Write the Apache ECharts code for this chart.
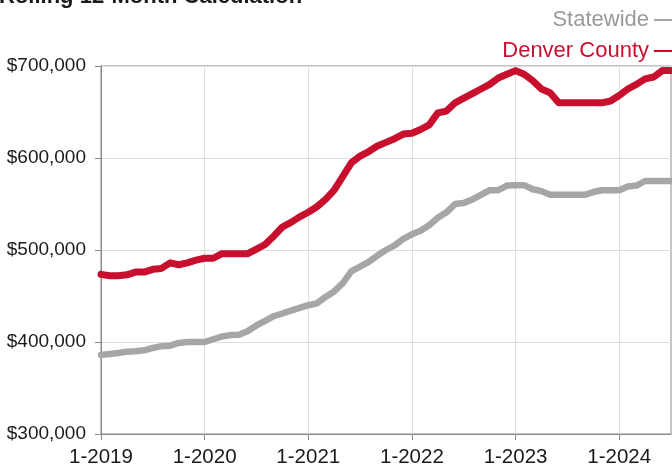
<!DOCTYPE html>
<html>
<head>
<meta charset="utf-8">
<script src="https://cdn.jsdelivr.net/npm/echarts@6/dist/echarts.min.js"></script>
<style>
html,body{margin:0;padding:0;background:#fff;}
#chart{width:672px;height:468px;}
</style>
</head>
<body>
<div id="chart"></div>
<script>
var months = [
 '1-2019','2-2019','3-2019','4-2019','5-2019','6-2019','7-2019','8-2019','9-2019','10-2019','11-2019','12-2019',
 '1-2020','2-2020','3-2020','4-2020','5-2020','6-2020','7-2020','8-2020','9-2020','10-2020','11-2020','12-2020',
 '1-2021','2-2021','3-2021','4-2021','5-2021','6-2021','7-2021','8-2021','9-2021','10-2021','11-2021','12-2021',
 '1-2022','2-2022','3-2022','4-2022','5-2022','6-2022','7-2022','8-2022','9-2022','10-2022','11-2022','12-2022',
 '1-2023','2-2023','3-2023','4-2023','5-2023','6-2023','7-2023','8-2023','9-2023','10-2023','11-2023','12-2023',
 '1-2024','2-2024','3-2024','4-2024','5-2024','6-2024','7-2024'
];
var statewide = [
 386000,387000,388000,389500,390000,391000,393500,395500,396000,399000,400000,400000,
 400000,403000,406000,407500,408000,412000,418000,423000,428000,431000,434000,437000,
 440000,442000,449000,455000,464000,477000,482000,487000,494000,500000,505000,512000,
 517000,521000,527000,535000,541000,550000,551000,555000,560000,565000,565000,570000,
 570500,570500,566000,564000,560000,560000,560000,560000,560000,563000,565000,565000,
 565000,569000,570000,575000,575000,575000,575000
];
var denver = [
 473500,472000,472000,473000,476000,476000,479000,480000,486000,484000,486000,489000,
 491000,491000,496000,496000,496000,496000,501000,506000,515000,525000,530000,536000,
 541000,547000,555000,565000,580000,595000,602000,607000,613000,617000,621000,626000,
 627000,631000,636000,649000,651000,660000,665000,670000,675000,680000,687000,691000,
 695000,691000,684000,675000,671000,660000,660000,660000,660000,660000,660000,662000,
 668000,675000,680000,686000,688000,695000,695000
];
var seriesNames = ['Statewide','Denver County'];
var yTicks = [300000,400000,500000,600000,700000];
var titleText = 'Rolling 12-Month Calculation';

function money(v){
  return '$' + String(v).replace(/\B(?=(\d{3})+(?!\d))/g, ',');
}
var chart = echarts.init(document.getElementById('chart'), null, {renderer:'canvas'});
var FONT = '"Liberation Sans", Arial, Helvetica, sans-serif';
chart.setOption({
  animation:false,
  backgroundColor:'#fff',
  graphic:[{
    type:'text', left:-1, top:-14,
    style:{text:titleText, font:'bold 22px ' + FONT, fill:'#1a1a1a'}
  }],
  legend:{
    orient:'vertical', right:-9, top:4, align:'right',
    itemWidth:22, itemHeight:2, itemGap:9, icon:'rect',
    textStyle:{fontFamily:FONT, fontSize:22, lineHeight:22},
    data:[
      {name:seriesNames[0], textStyle:{color:'#9a9a9a'}},
      {name:seriesNames[1], textStyle:{color:'#c8102e'}}
    ]
  },
  grid:{left:101, right:1, top:66, bottom:31, show:true, borderColor:'#8a8a8a', borderWidth:1, containLabel:false},
  xAxis:{
    type:'category', data:months, boundaryGap:false,
    axisLine:{lineStyle:{color:'#8a8a8a', width:1}},
    axisTick:{show:true, length:6, lineStyle:{color:'#8a8a8a'}, interval:function(i){return i%12===0;}},
    axisLabel:{color:'#1a1a1a', fontFamily:FONT, fontSize:20.5, margin:13, interval:function(i){return i%12===0;}},
    splitLine:{show:true, lineStyle:{color:'#dedede', width:1}, interval:function(i){return i%12===0;}}
  },
  yAxis:{
    type:'value', min:yTicks[0], max:yTicks[yTicks.length-1], interval:100000,
    axisLine:{show:true, lineStyle:{color:'#8a8a8a', width:1}},
    axisTick:{show:true, length:6, lineStyle:{color:'#8a8a8a'}},
    axisLabel:{color:'#1a1a1a', fontFamily:FONT, fontSize:19, margin:15, formatter:money},
    splitLine:{show:true, lineStyle:{color:'#dedede', width:1}}
  },
  series:[
    {name:seriesNames[0], type:'line', data:statewide, symbol:'none', smooth:false,
     color:'#a6a6a6', lineStyle:{width:6.5, color:'#a6a6a6', join:'round', cap:'round'}},
    {name:seriesNames[1], type:'line', data:denver, symbol:'none', smooth:false,
     color:'#c8102e', lineStyle:{width:7, color:'#c8102e', join:'round', cap:'round'}}
  ]
});
</script>
</body>
</html>
